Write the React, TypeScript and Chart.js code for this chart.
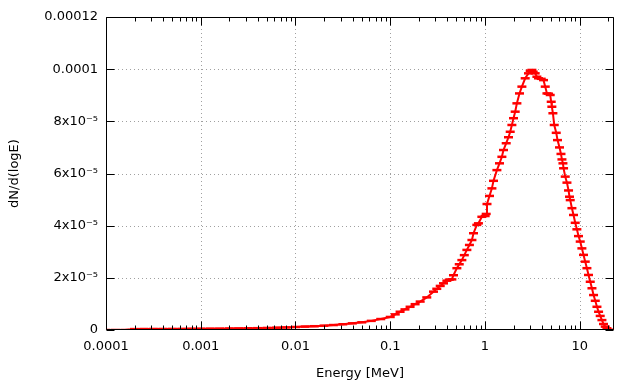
import React, { useEffect, useRef } from 'react';
import { Chart, registerables } from 'chart.js';

Chart.register(...registerables);

// Energy bin centres [MeV]
const energies: number[] = [
  1.0e-4, 1.26e-4, 1.58e-4, 2.0e-4, 2.51e-4, 3.16e-4, 3.98e-4, 5.01e-4, 6.31e-4, 7.94e-4,
  1.0e-3, 1.26e-3, 1.58e-3, 2.0e-3, 2.51e-3, 3.16e-3, 3.98e-3, 5.01e-3, 6.31e-3, 7.94e-3,
  0.01, 0.0126, 0.0158, 0.02, 0.0251, 0.0316, 0.0398, 0.0501, 0.0631, 0.0794,
  0.1, 0.113, 0.127, 0.143, 0.162, 0.183, 0.207, 0.243, 0.286, 0.31,
  0.337, 0.365, 0.396, 0.42, 0.447, 0.465, 0.505, 0.535, 0.57, 0.605,
  0.644, 0.685, 0.728, 0.757, 0.82, 0.853, 0.927, 1.004, 1.03, 1.05,
  1.116, 1.183, 1.23, 1.336, 1.423, 1.508, 1.568, 1.675, 1.771, 1.846,
  1.923, 2.0, 2.084, 2.172, 2.313, 2.452, 2.657, 2.878, 3.0, 3.127,
  3.226, 3.386, 3.53, 3.671, 3.923, 4.149, 4.325, 4.508, 4.688, 4.88,
  5.0, 5.08, 5.21, 5.38, 5.65, 5.83, 6.12, 6.34, 6.49, 6.65,
  6.75, 7.03, 7.33, 7.62, 7.8, 7.94, 8.27, 8.6, 8.96, 9.33,
  9.71, 10.12, 10.54, 10.96, 11.43, 11.91, 12.38, 12.91, 13.46, 13.99,
  14.59, 15.2, 15.81, 16.45, 17.15, 17.83, 18.58, 19.37, 20.6,
];

// dN/d(logE)
const counts: number[] = [
  0, 0, 0, 0.35e-6, 0.38e-6, 0.4e-6, 0.4e-6, 0.42e-6, 0.43e-6, 0.45e-6,
  0.47e-6, 0.5e-6, 0.52e-6, 0.56e-6, 0.6e-6, 0.65e-6, 0.7e-6, 0.78e-6, 0.88e-6, 1.0e-6,
  1.15e-6, 1.3e-6, 1.45e-6, 1.65e-6, 1.9e-6, 2.2e-6, 2.55e-6, 2.95e-6, 3.5e-6, 4.2e-6,
  5.0e-6, 6.0e-6, 7.0e-6, 7.9e-6, 8.9e-6, 9.9e-6, 10.9e-6, 12.5e-6, 14.7e-6, 15.8e-6,
  16.9e-6, 17.9e-6, 18.9e-6, 19.3e-6, 19.4e-6, 21.0e-6, 23.7e-6, 25.2e-6, 26.8e-6, 28.7e-6,
  30.7e-6, 32.6e-6, 34.5e-6, 37.1e-6, 40.3e-6, 40.9e-6, 43.4e-6, 43.7e-6, 44.5e-6, 48.3e-6,
  51.4e-6, 54.3e-6, 57.2e-6, 61.3e-6, 63.9e-6, 66.4e-6, 69.0e-6, 71.6e-6, 73.9e-6, 76.0e-6,
  78.6e-6, 81.2e-6, 83.7e-6, 86.9e-6, 90.7e-6, 93.3e-6, 96.5e-6, 98.4e-6, 99.4e-6, 99.7e-6,
  99.0e-6, 98.4e-6, 97.1e-6, 96.5e-6, 96.3e-6, 95.8e-6, 93.3e-6, 90.7e-6, 90.6e-6, 90.1e-6,
  87.5e-6, 85.6e-6, 83.1e-6, 78.6e-6, 75.6e-6, 72.8e-6, 70.0e-6, 67.5e-6, 65.4e-6, 63.9e-6,
  62.0e-6, 58.8e-6, 56.5e-6, 53.5e-6, 51.1e-6, 49.8e-6, 46.7e-6, 44.1e-6, 41.1e-6, 38.6e-6,
  36.0e-6, 33.9e-6, 31.3e-6, 28.8e-6, 26.2e-6, 23.7e-6, 21.1e-6, 18.5e-6, 16.0e-6, 13.4e-6,
  11.2e-6, 8.9e-6, 7.0e-6, 5.4e-6, 3.8e-6, 2.3e-6, 1.3e-6, 0.65e-6, 0.1e-6,
];

const xMin = 0.0001;
const xMax = 23;
const xTickValues: number[] = [0.0001, 0.001, 0.01, 0.1, 1, 10];
const xTickLabels: string[] = ['0.0001', '0.001', '0.01', '0.1', '1', '10'];
const yMin = 0;
const yMax = 0.00012;
const yTickValues: number[] = [0, 2e-5, 4e-5, 6e-5, 8e-5, 1e-4, 1.2e-4];
const yTickLabels: string[] = ['0', '2x10⁻⁵', '4x10⁻⁵', '6x10⁻⁵', '8x10⁻⁵', '0.0001', '0.00012'];
const xTitle = 'Energy [MeV]';
const yTitle = 'dN/d(logE)';

const FONT = "'DejaVu Sans', sans-serif";

const framePlugin = {
  id: 'gnuplotFrame',
  beforeDatasetsDraw(chart: any) {
    const { ctx, chartArea, scales } = chart;
    const { left, right, top, bottom } = chartArea;
    const x = scales.x;
    const y = scales.y;
    ctx.save();
    ctx.strokeStyle = '#a0a0a0';
    ctx.lineWidth = 1;
    ctx.setLineDash([1, 3]);
    for (const v of xTickValues) {
      if (v <= xMin || v >= xMax) continue;
      const px = Math.round(x.getPixelForValue(v)) + 0.5;
      ctx.beginPath();
      ctx.moveTo(px, top);
      ctx.lineTo(px, bottom);
      ctx.stroke();
    }
    for (const v of yTickValues) {
      if (v <= yMin || v >= yMax) continue;
      const py = Math.round(y.getPixelForValue(v)) + 0.5;
      ctx.beginPath();
      ctx.moveTo(left, py);
      ctx.lineTo(right, py);
      ctx.stroke();
    }
    ctx.restore();
  },
  afterDatasetsDraw(chart: any) {
    const { ctx, chartArea, scales } = chart;
    const { left, right, top, bottom } = chartArea;
    const x = scales.x;
    const y = scales.y;
    ctx.save();
    ctx.strokeStyle = '#000000';
    ctx.lineWidth = 1;
    ctx.setLineDash([]);
    const L = Math.round(left) + 0.5;
    const R = Math.round(right) - 0.5;
    const T = Math.round(top) + 0.5;
    const B = Math.round(bottom) - 0.5;
    ctx.beginPath();
    ctx.rect(L, T, R - L, B - T);
    ctx.stroke();
    ctx.beginPath();
    for (let e = -4; e <= 1; e++) {
      for (let m = 1; m <= 9; m++) {
        const v = m * Math.pow(10, e);
        if (v < xMin || v > xMax) continue;
        const px = Math.round(x.getPixelForValue(v)) + 0.5;
        const len = m === 1 ? 8 : 4;
        ctx.moveTo(px, B);
        ctx.lineTo(px, B - len);
        ctx.moveTo(px, T);
        ctx.lineTo(px, T + len);
      }
    }
    for (const v of yTickValues) {
      const py = Math.round(y.getPixelForValue(v)) + 0.5;
      ctx.moveTo(L, py);
      ctx.lineTo(L + 8, py);
      ctx.moveTo(R, py);
      ctx.lineTo(R - 8, py);
    }
    ctx.stroke();
    ctx.restore();
  },
};

export default function App() {
  const canvasRef = useRef<HTMLCanvasElement | null>(null);

  useEffect(() => {
    document.body.style.margin = '0';
    const canvas = canvasRef.current;
    if (!canvas) return;
    const points = energies.map((e, i) => ({ x: e, y: counts[i] }));
    const chart = new Chart(canvas, {
      type: 'line',
      data: {
        datasets: [
          {
            data: points,
            borderColor: '#ff0000',
            backgroundColor: '#ff0000',
            borderWidth: 2,
            pointStyle: 'line',
            pointRadius: 4.5,
            pointBorderWidth: 2.5,
            pointBorderColor: '#ff0000',
            pointHoverRadius: 4.5,
            tension: 0,
            fill: false,
          },
        ],
      },
      options: {
        responsive: false,
        animation: false,
        events: [],
        layout: { padding: { top: 17, right: 26, left: 0, bottom: 0 } },
        plugins: {
          legend: { display: false },
          tooltip: { enabled: false },
          title: { display: false },
        },
        scales: {
          x: {
            type: 'logarithmic',
            min: xMin,
            max: xMax,
            afterBuildTicks: (scale: any) => {
              scale.ticks = xTickValues.map((v) => ({ value: v }));
            },
            afterFit: (scale: any) => {
              scale.height = 54;
            },
            grid: { display: false, drawTicks: false },
            border: { display: false },
            ticks: {
              autoSkip: false,
              maxRotation: 0,
              padding: 9,
              color: '#000000',
              font: { family: FONT, size: 13 },
              callback: (_v: any, i: number) => xTickLabels[i],
            },
            title: {
              display: true,
              text: xTitle,
              color: '#000000',
              font: { family: FONT, size: 13 },
              padding: { top: 0, bottom: 3 },
            },
          },
          y: {
            type: 'linear',
            min: yMin,
            max: yMax,
            afterBuildTicks: (scale: any) => {
              scale.ticks = yTickValues.map((v) => ({ value: v }));
            },
            afterFit: (scale: any) => {
              scale.width = 106;
            },
            grid: { display: false, drawTicks: false },
            border: { display: false },
            ticks: {
              autoSkip: false,
              padding: 8,
              color: '#000000',
              font: { family: FONT, size: 13 },
              callback: (_v: any, i: number) => yTickLabels[i],
            },
            title: {
              display: true,
              text: yTitle,
              color: '#000000',
              font: { family: FONT, size: 13 },
              padding: { top: 7, bottom: 0 },
            },
          },
        },
      },
      plugins: [framePlugin],
    });
    return () => chart.destroy();
  }, []);

  return (
    <div style={{ width: 640, height: 384 }}>
      <canvas ref={canvasRef} width={640} height={384} style={{ display: 'block', width: 640, height: 384 }} />
    </div>
  );
}
